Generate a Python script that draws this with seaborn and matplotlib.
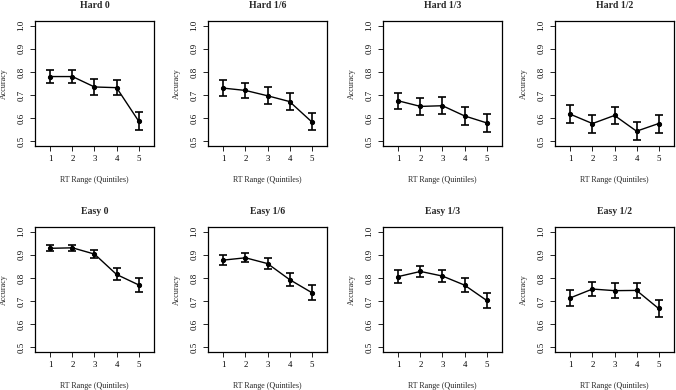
import matplotlib
matplotlib.use("Agg")
import matplotlib.pyplot as plt
import seaborn as sns
import pandas as pd
import numpy as np

sns.set_theme(style="white")
plt.rcParams['font.family'] = ['Liberation Serif', 'DejaVu Serif']

quintiles = [1, 2, 3, 4, 5]
titles = ["Hard 0", "Hard 1/6", "Hard 1/3", "Hard 1/2",
          "Easy 0", "Easy 1/6", "Easy 1/3", "Easy 1/2"]

hard_0 = [0.780, 0.780, 0.735, 0.732, 0.588]
hard_0_err = [0.028, 0.028, 0.033, 0.033, 0.037]
hard_16 = [0.730, 0.720, 0.697, 0.672, 0.585]
hard_16_err = [0.033, 0.033, 0.036, 0.036, 0.037]
hard_13 = [0.675, 0.651, 0.654, 0.610, 0.580]
hard_13_err = [0.036, 0.037, 0.036, 0.038, 0.038]
hard_12 = [0.617, 0.577, 0.612, 0.544, 0.577]
hard_12_err = [0.038, 0.039, 0.037, 0.039, 0.039]
easy_0 = [0.928, 0.930, 0.903, 0.815, 0.770]
easy_0_err = [0.013, 0.013, 0.018, 0.026, 0.030]
easy_16 = [0.877, 0.887, 0.862, 0.793, 0.737]
easy_16_err = [0.020, 0.019, 0.022, 0.028, 0.032]
easy_13 = [0.806, 0.828, 0.808, 0.769, 0.703]
easy_13_err = [0.027, 0.025, 0.026, 0.030, 0.034]
easy_12 = [0.714, 0.752, 0.745, 0.746, 0.668]
easy_12_err = [0.035, 0.032, 0.032, 0.032, 0.035]

means = [hard_0, hard_16, hard_13, hard_12, easy_0, easy_16, easy_13, easy_12]
errs = [hard_0_err, hard_16_err, hard_13_err, hard_12_err,
        easy_0_err, easy_16_err, easy_13_err, easy_12_err]

W, H = 676, 390
fig = plt.figure(figsize=(W / 100, H / 100), dpi=100)
fig.patch.set_facecolor("white")

lefts = [35, 208, 383, 555]
tops = [21, 227]
aw, ah = 119, 125

for i in range(8):
    r, c = divmod(i, 4)
    ax = fig.add_axes([lefts[c] / W, 1 - (tops[r] + ah) / H, aw / W, ah / H])
    df = pd.DataFrame({"q": quintiles, "acc": means[i]})
    ax.errorbar(quintiles, means[i], yerr=errs[i], fmt="none", ecolor="black",
                elinewidth=1.2, capsize=3, capthick=1.2, zorder=2)
    sns.lineplot(data=df, x="q", y="acc", ax=ax, color="black", linewidth=1.0,
                 marker="o", markersize=3.0, markeredgecolor="black", zorder=3)
    ax.set_xlim(0.3, 5.7)
    ax.set_ylim(0.48, 1.02)
    ax.set_xticks(quintiles)
    ax.set_yticks([0.5, 0.6, 0.7, 0.8, 0.9, 1.0])
    ax.set_yticklabels(["0.5", "0.6", "0.7", "0.8", "0.9", "1.0"], rotation=90, va="center")
    ax.tick_params(axis="both", which="both", direction="out", length=3.8, width=0.6,
                   labelsize=6.3, color="black", labelcolor="black", pad=3,
                   bottom=True, left=True)
    for s in ax.spines.values():
        s.set_visible(True)
        s.set_color("black")
        s.set_linewidth(0.9)
    ax.set_xlabel("RT Range (Quintiles)", fontsize=5.8, labelpad=9)
    ax.set_ylabel("Accuracy", fontsize=5.8, labelpad=7)
    ax.set_title(titles[i], fontsize=7, fontweight="bold", pad=9)
    ax.grid(False)

fig.savefig("out.png", dpi=100, facecolor="white")
